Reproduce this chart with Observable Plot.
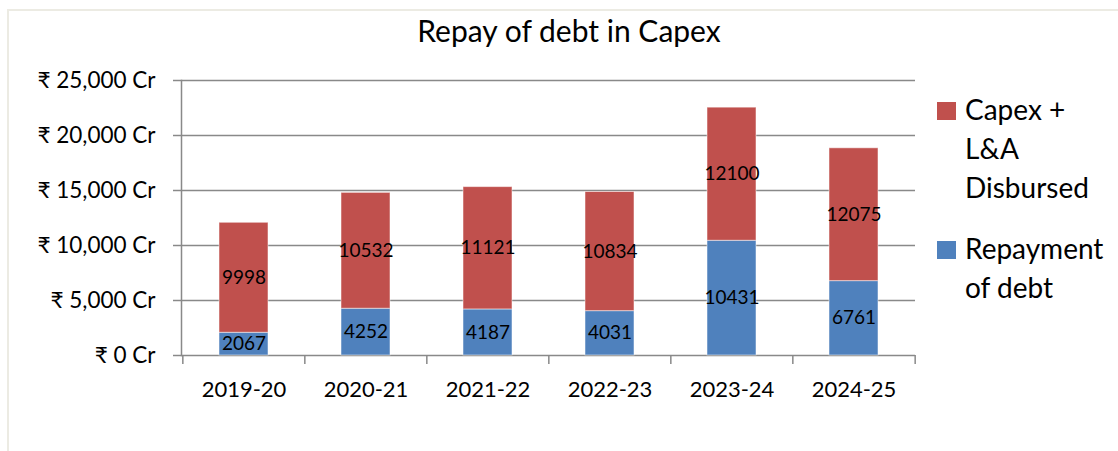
<!DOCTYPE html>
<html><head><meta charset="utf-8">
<script src="https://cdn.jsdelivr.net/npm/d3@7"></script>
<script src="https://cdn.jsdelivr.net/npm/@observablehq/plot@0.6"></script>
<style>
body{margin:0;background:#fff;overflow:hidden;}
#wrap{position:relative;width:1118px;height:451px;overflow:hidden;font-family:Lato,"Noto Sans",sans-serif;color:#000;}
#border{position:absolute;left:7px;top:9px;width:1200px;height:600px;border:2px solid #ECEBE3;box-sizing:border-box;}
#title{position:absolute;top:12px;left:0;width:1138px;text-align:center;font-size:30px;line-height:36px;}
#chart{position:absolute;left:0;top:0;}
#legend{position:absolute;left:937px;top:90px;}
.item{display:flex;align-items:flex-start;margin-bottom:22px;}
.sw{width:19px;height:18px;margin-top:12px;margin-right:9px;flex:none;}
.lab{font-size:28px;line-height:39px;white-space:pre-line;}
</style></head>
<body><div id="wrap"><div id="border"></div><div id="title"></div><div id="chart"></div><div id="legend"></div></div>
<script>
const chartTitle = "Repay of debt in Capex";
const years = ["2019-20","2020-21","2021-22","2022-23","2023-24","2024-25"];
const repayment = [2067,4252,4187,4031,10431,6761];
const capex = [9998,10532,11121,10834,12100,12075];
const seriesNames = ["Repayment of debt","Capex + L&A Disbursed"];
const legendLabels = ["Repayment\nof debt","Capex +\nL&A\nDisbursed"];
const colors = ["#4F81BD","#C0504D"];
const yTicks = [0,5000,10000,15000,20000,25000];

const rows = [];
years.forEach((yr,i)=>{
  rows.push({year:yr, series:seriesNames[0], value:repayment[i]});
  rows.push({year:yr, series:seriesNames[1], value:capex[i]});
});

const W=1118,H=451,mL=181,mR=203,mT=80,mB=96;
const step=(W-mL-mR)/years.length;
const gray="#898989";

const plot = Plot.plot({
  width:W,height:H,marginLeft:mL,marginRight:mR,marginTop:mT,marginBottom:mB,
  style:{fontFamily:"Lato, 'Noto Sans', sans-serif",fontSize:"22px",color:"#000",background:"transparent"},
  x:{domain:years,paddingInner:0.6,paddingOuter:0.3,axis:null},
  y:{domain:[0,25000],axis:null},
  color:{domain:seriesNames,range:colors},
  marks:[
    Plot.gridY(yTicks,{stroke:gray,strokeOpacity:1,strokeWidth:1.5}),
    Plot.axisY(yTicks,{label:null,tickSize:8,tickPadding:18,stroke:gray,strokeOpacity:1,strokeWidth:1.5,fill:"#000",fontSize:22.5,tickFormat:d=>`₹ ${d3.format(",")(d)} Cr`}),
    Plot.barY(rows,Plot.stackY({x:"year",y:"value",fill:"series",stroke:"#fff",strokeOpacity:0.5,strokeWidth:1})),
    Plot.text(rows,Plot.stackY({x:"year",y:"value",z:"series",text:d=>String(d.value),fontSize:19,fill:"#000"})),
    Plot.frame({anchor:"left",stroke:gray,strokeWidth:1.5}),
    Plot.axisX({label:null,tickSize:9,dx:-step/2,tickFormat:()=>"",stroke:gray,strokeOpacity:1,strokeWidth:1.5}),
    Plot.axisX([years[years.length-1]],{label:null,tickSize:9,dx:step/2,tickFormat:()=>"",stroke:gray,strokeOpacity:1,strokeWidth:1.5}),
    Plot.axisX({label:null,tickSize:0,tickPadding:26,fontSize:22,fill:"#000"})
  ]
});
document.getElementById("chart").appendChild(plot);
document.getElementById("title").textContent = chartTitle;
const lg = document.getElementById("legend");
[1,0].forEach(i=>{
  const it=document.createElement("div");it.className="item";
  const sw=document.createElement("div");sw.className="sw";sw.style.background=colors[i];
  const lb=document.createElement("div");lb.className="lab";lb.textContent=legendLabels[i];
  it.appendChild(sw);it.appendChild(lb);lg.appendChild(it);
});
</script></body></html>
